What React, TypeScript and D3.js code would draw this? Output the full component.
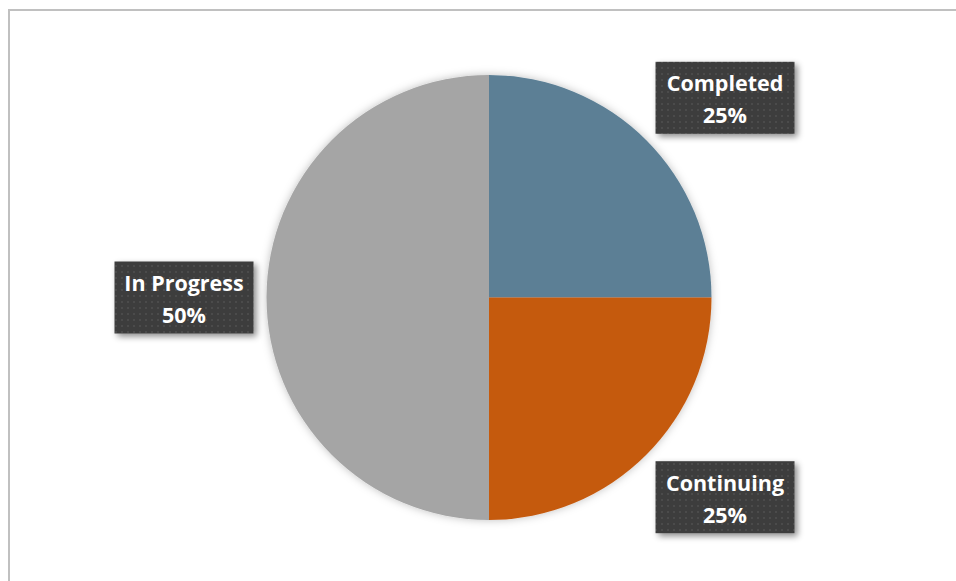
import React from "react";
import * as d3 from "d3";

const categories = ["Completed", "Continuing", "In Progress"];
const values = [25, 25, 50];
const colors = ["#5B7F95", "#C55A11", "#A5A5A5"];

const W = 956;
const H = 581;
const cx = 489;
const cy = 297.5;
const R = 222.5;
const boxW = 139;
const boxH = 72;
const gapX = 13;
const gapY = 9;

export default function App() {
  const total = d3.sum(values);
  const pie = d3.pie<number>().sort(null).value((d) => d);
  const arcs = pie(values);
  const arc = d3.arc<d3.PieArcDatum<number>>().innerRadius(0).outerRadius(R);

  return (
    <div style={{ position: "absolute", left: 0, top: 0, width: W, height: H, background: "#fff" }}>
      <svg width={W} height={H} style={{ display: "block" }}>
        <defs>
          <pattern id="dots" width="6" height="6" patternUnits="userSpaceOnUse">
            <rect width="6" height="6" fill="#3e3e3e" />
            <rect x="1" y="1" width="2" height="2" fill="#4b4b4b" />
          </pattern>
          <filter id="boxShadow" x="-20%" y="-20%" width="150%" height="160%">
            <feDropShadow dx="3" dy="3" stdDeviation="3" floodColor="#000" floodOpacity="0.45" />
          </filter>
          <filter id="pieShadow" x="-10%" y="-10%" width="120%" height="120%">
            <feDropShadow dx="0" dy="0" stdDeviation="4" floodColor="#000" floodOpacity="0.25" />
          </filter>
        </defs>
        <rect x={9} y={10} width={W + 10} height={H + 10} fill="none" stroke="#c0c0c0" strokeWidth={2} />
        <g transform={`translate(${cx},${cy})`} filter="url(#pieShadow)">
          {arcs.map((a, i) => (
            <path key={categories[i]} d={arc(a) || ""} fill={colors[i]} />
          ))}
        </g>
        {arcs.map((a, i) => {
          const mid = (a.startAngle + a.endAngle) / 2;
          const s = Math.sin(mid);
          const c = -Math.cos(mid);
          const ax = cx + s * (R + gapX);
          const ay = cy + c * (R + gapY);
          let x0 = ax - boxW / 2;
          if (s > 0.2) x0 = ax;
          else if (s < -0.2) x0 = ax - boxW;
          let y0 = ay - boxH / 2;
          if (c > 0.2) y0 = ay;
          else if (c < -0.2) y0 = ay - boxH;
          const pct = Math.round((values[i] / total) * 100) + "%";
          return (
            <g key={"l" + categories[i]}>
              <rect x={x0} y={y0} width={boxW} height={boxH} fill="url(#dots)" filter="url(#boxShadow)" />
              <text
                x={x0 + boxW / 2}
                y={y0 + 21}
                textAnchor="middle"
                dominantBaseline="central"
                fill="#fff"
                fontFamily="'Open Sans', sans-serif"
                fontWeight="bold"
                fontSize={21.5}
              >
                {categories[i]}
              </text>
              <text
                x={x0 + boxW / 2}
                y={y0 + 53}
                textAnchor="middle"
                dominantBaseline="central"
                fill="#fff"
                fontFamily="'Open Sans', sans-serif"
                fontWeight="bold"
                fontSize={21.5}
              >
                {pct}
              </text>
            </g>
          );
        })}
      </svg>
    </div>
  );
}
